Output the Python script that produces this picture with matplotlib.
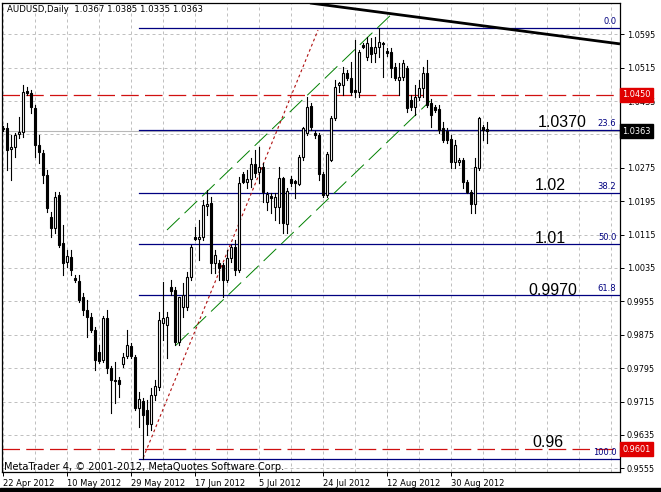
import matplotlib
matplotlib.use("Agg")
import matplotlib.pyplot as plt
from matplotlib.transforms import blended_transform_factory

# daily AUDUSD candles, bar 0 = 22 Apr 2012 (broker feed with Sunday bars)
opens = [1.0370, 1.0370, 1.0320, 1.0325, 1.0356, 1.0361, 1.0459, 1.0454, 1.0418, 1.0330,
         1.0310, 1.0258, 1.0157, 1.0131, 1.0210, 1.0095, 1.0049, 1.0061, 1.0011, 1.0004,
         0.9965, 0.9934, 0.9917, 0.9886, 0.9834, 0.9814, 0.9915, 0.9795, 0.9767, 0.9767,
         0.9805, 0.9824, 0.9848, 0.9822, 0.9699, 0.9716, 0.9695, 0.9661, 0.9731, 0.9750,
         0.9903, 0.9898, 0.9989, 0.9982, 0.9858, 0.9941, 0.9941, 1.0013, 1.0109, 1.0104,
         1.0109, 1.0183, 1.0191, 1.0047, 1.0047, 1.0042, 1.0006, 1.0059, 1.0085, 1.0030,
         1.0260, 1.0241, 1.0248, 1.0284, 1.0265, 1.0277, 1.0193, 1.0207, 1.0181, 1.0181,
         1.0251, 1.0140, 1.0248, 1.0243, 1.0236, 1.0301, 1.0358, 1.0423, 1.0358, 1.0354,
         1.0260, 1.0210, 1.0294, 1.0394, 1.0473, 1.0473, 1.0502, 1.0490, 1.0461, 1.0457,
         1.0569, 1.0540, 1.0564, 1.0550, 1.0564, 1.0574, 1.0555, 1.0552, 1.0517, 1.0485,
         1.0493, 1.0514, 1.0437, 1.0421, 1.0445, 1.0466, 1.0502, 1.0430, 1.0421, 1.0416,
         1.0370, 1.0363, 1.0344, 1.0289, 1.0289, 1.0294, 1.0241, 1.0217, 1.0188, 1.0275,
         1.0373, 1.0367]
highs = [1.0375, 1.0382, 1.0354, 1.0358, 1.0397, 1.0473, 1.0469, 1.0461, 1.0425, 1.0354,
         1.0318, 1.0270, 1.0169, 1.0217, 1.0217, 1.0138, 1.0078, 1.0078, 1.0018, 1.0018,
         0.9975, 0.9958, 0.9927, 0.9894, 0.9850, 0.9920, 0.9934, 0.9800, 0.9810, 0.9774,
         0.9831, 0.9886, 0.9855, 0.9826, 0.9738, 0.9723, 0.9719, 0.9747, 0.9767, 0.9929,
         1.0001, 0.9929, 1.0006, 0.9989, 0.9965, 0.9999, 1.0025, 1.0090, 1.0133, 1.0150,
         1.0198, 1.0222, 1.0205, 1.0078, 1.0054, 1.0047, 1.0078, 1.0090, 1.0102, 1.0253,
         1.0265, 1.0270, 1.0298, 1.0318, 1.0325, 1.0287, 1.0217, 1.0215, 1.0215, 1.0277,
         1.0253, 1.0227, 1.0255, 1.0246, 1.0306, 1.0373, 1.0445, 1.0430, 1.0363, 1.0358,
         1.0265, 1.0313, 1.0399, 1.0485, 1.0481, 1.0517, 1.0509, 1.0528, 1.0581, 1.0557,
         1.0574, 1.0588, 1.0586, 1.0588, 1.0610, 1.0576, 1.0562, 1.0562, 1.0526, 1.0526,
         1.0533, 1.0519, 1.0449, 1.0473, 1.0485, 1.0517, 1.0533, 1.0440, 1.0425, 1.0425,
         1.0385, 1.0370, 1.0354, 1.0342, 1.0298, 1.0298, 1.0246, 1.0222, 1.0298, 1.0397,
         1.0378, 1.0385]
lows = [1.0363, 1.0270, 1.0246, 1.0301, 1.0346, 1.0349, 1.0449, 1.0406, 1.0301, 1.0287,
        1.0239, 1.0169, 1.0109, 1.0119, 1.0085, 1.0018, 1.0037, 1.0018, 1.0001, 0.9953,
        0.9922, 0.9870, 0.9882, 0.9790, 0.9807, 0.9810, 0.9783, 0.9688, 0.9711, 0.9726,
        0.9798, 0.9819, 0.9819, 0.9695, 0.9654, 0.9577, 0.9635, 0.9647, 0.9719, 0.9743,
        0.9862, 0.9819, 0.9970, 0.9850, 0.9850, 0.9917, 0.9934, 1.0006, 1.0102, 1.0054,
        1.0102, 1.0162, 1.0023, 1.0023, 1.0006, 0.9965, 1.0001, 1.0049, 1.0018, 1.0025,
        1.0239, 1.0227, 1.0229, 1.0253, 1.0239, 1.0193, 1.0174, 1.0167, 1.0150, 1.0143,
        1.0119, 1.0119, 1.0231, 1.0203, 1.0234, 1.0294, 1.0354, 1.0366, 1.0346, 1.0246,
        1.0205, 1.0205, 1.0291, 1.0390, 1.0457, 1.0449, 1.0485, 1.0449, 1.0445, 1.0445,
        1.0562, 1.0533, 1.0528, 1.0528, 1.0540, 1.0493, 1.0543, 1.0493, 1.0485, 1.0449,
        1.0485, 1.0409, 1.0413, 1.0402, 1.0437, 1.0445, 1.0421, 1.0373, 1.0409, 1.0358,
        1.0337, 1.0334, 1.0275, 1.0275, 1.0282, 1.0227, 1.0215, 1.0167, 1.0167, 1.0270,
        1.0342, 1.0335]
closes = [1.0368, 1.0318, 1.0325, 1.0354, 1.0361, 1.0457, 1.0454, 1.0421, 1.0330, 1.0313,
          1.0258, 1.0179, 1.0131, 1.0205, 1.0090, 1.0047, 1.0064, 1.0030, 1.0006, 0.9958,
          0.9934, 0.9917, 0.9886, 0.9814, 0.9812, 0.9915, 0.9795, 0.9767, 0.9764, 0.9757,
          0.9822, 0.9850, 0.9824, 0.9699, 0.9721, 0.9683, 0.9661, 0.9731, 0.9752, 0.9910,
          0.9915, 0.9917, 0.9980, 0.9858, 0.9965, 0.9970, 1.0013, 1.0085, 1.0104, 1.0109,
          1.0186, 1.0188, 1.0047, 1.0066, 1.0035, 1.0006, 1.0059, 1.0085, 1.0030, 1.0239,
          1.0241, 1.0248, 1.0284, 1.0263, 1.0277, 1.0217, 1.0212, 1.0203, 1.0205, 1.0251,
          1.0143, 1.0219, 1.0239, 1.0239, 1.0301, 1.0370, 1.0421, 1.0373, 1.0354, 1.0260,
          1.0210, 1.0308, 1.0394, 1.0469, 1.0478, 1.0502, 1.0490, 1.0457, 1.0457, 1.0552,
          1.0564, 1.0574, 1.0548, 1.0564, 1.0576, 1.0572, 1.0550, 1.0514, 1.0490, 1.0493,
          1.0526, 1.0418, 1.0421, 1.0445, 1.0466, 1.0502, 1.0425, 1.0402, 1.0413, 1.0366,
          1.0342, 1.0342, 1.0289, 1.0330, 1.0294, 1.0241, 1.0217, 1.0188, 1.0277, 1.0394,
          1.0366, 1.0363]

date_labels = ["22 Apr 2012", "10 May 2012", "29 May 2012", "17 Jun 2012",
               "5 Jul 2012", "24 Jul 2012", "12 Aug 2012", "30 Aug 2012"]
date_bars = [0, 16, 32, 48, 64, 80, 96, 112]

price_ticks = [1.0595, 1.0515, 1.0435, 1.0355, 1.0275, 1.0195, 1.0115,
               1.0035, 0.9955, 0.9875, 0.9795, 0.9715, 0.9635, 0.9555]

# fibonacci retracement drawn from the June low to the August high
fib_high = 1.0609
fib_low = 0.9577
fib_start = 34
fib_ratios = [0.0, 0.236, 0.382, 0.5, 0.618, 1.0]
fib_names = ["0.0", "23.6", "38.2", "50.0", "61.8", "100.0"]

# hand-drawn level notes
note_texts = ["1.0370", "1.02", "1.01", "0.9970", "0.96"]
note_prices = [1.0374, 1.0222, 1.0094, 0.9970, 0.9606]
note_bars = [133.7, 133.0, 133.0, 131.2, 132.2]

red_levels = [1.0450, 0.9601]
last_price = 1.0363

# trend objects (bar, price) end points
black_trend = [(76.7, 1.0670), (154.2, 1.0572)]
red_trend = [(35.0, 0.9580), (78.7, 1.0605)]
chan_upper = [(40.95, 1.0126), (97.2, 1.0644)]
chan_lower = [(43.2, 0.9850), (106.7, 1.0435)]

W, H = 661, 492
fig = plt.figure(figsize=(W / 100, H / 100), dpi=100)
fig.patch.set_facecolor("white")
ax = fig.add_axes([2 / W, 20 / H, 618 / W, 469 / H])
ax.set_xlim(-0.3, 154.2)
ax.set_ylim(0.95461, 1.06700)

grid_kw = dict(color="#c0c0c0", lw=0.72, ls=(0, (3, 3)), zorder=0)
for k in range(0, 20):
    ax.axvline(8 * k, **grid_kw)
for p in price_ticks:
    ax.axhline(p, **grid_kw)

# fib levels
for r, name in zip(fib_ratios, fib_names):
    lv = fib_high - r * (fib_high - fib_low)
    ax.plot([fib_start, 154.2], [lv, lv], color="#000080", lw=0.9, zorder=2)
    ax.text(153.3, lv + 0.0005, name, color="#000080", fontsize=6.0,
            family="DejaVu Sans", ha="right", va="bottom", zorder=5)

for lv in red_levels:
    ax.axhline(lv, color="#d01010", lw=0.9, ls=(0, (14, 5)), zorder=2)
ax.axhline(last_price, color="#b8b8b8", lw=0.8, zorder=1)

ax.plot(*zip(*chan_upper), color="#008000", lw=0.7, ls=(0, (18, 7)), zorder=2)
ax.plot(*zip(*chan_lower), color="#008000", lw=0.7, ls=(0, (18, 7)), zorder=2)
ax.plot(*zip(*red_trend), color="#b01010", lw=0.8, ls=(0, (2.5, 2.5)), zorder=2)
ax.plot(*zip(*black_trend), color="black", lw=2.0, zorder=4, solid_capstyle="butt")

# candles
for i, (o, h, l, c) in enumerate(zip(opens, highs, lows, closes)):
    ax.plot([i, i], [l, h], color="black", lw=0.8, zorder=3)
    lo, hi = min(o, c), max(o, c)
    face = "black" if c < o else "white"
    if hi - lo < 0.00015:
        ax.plot([i - 0.4, i + 0.4], [c, c], color="black", lw=0.9, zorder=3)
    else:
        ax.bar(i, hi - lo, bottom=lo, width=0.5, color=face, edgecolor="black",
               lw=0.8, zorder=3)

for t, p, b in zip(note_texts, note_prices, note_bars):
    ax.text(b, p, t, fontsize=11.5, family="Liberation Sans", color="black",
            ha="left", va="baseline", zorder=6)

# axes cosmetics
for s in ax.spines.values():
    s.set_linewidth(0.9)
    s.set_color("black")
ax.yaxis.tick_right()
ax.set_yticks(price_ticks)
# 1.0355 sits fully under the black last-price box in the terminal, so leave it blank
ax.set_yticklabels(["" if p == 1.0355 else f"{p:.4f}" for p in price_ticks],
                   fontsize=5.9, family="DejaVu Sans")
ax.tick_params(axis="y", length=3, width=0.7, pad=2)
ax.set_xticks(date_bars)
ax.set_xticklabels(date_labels, fontsize=6.0, family="DejaVu Sans", ha="left")
ax.tick_params(axis="x", length=3, width=0.7, pad=2)

ytr = blended_transform_factory(ax.transAxes, ax.transData)
box_specs = [(red_levels[0], "#e00000"), (last_price, "black"), (red_levels[1], "#e00000")]
for p, col in box_specs:
    ax.text(1.004, p, f"{p:.4f}", transform=ytr, fontsize=5.9, family="DejaVu Sans",
            color="white", ha="left", va="center", clip_on=False, zorder=10,
            bbox=dict(boxstyle="square,pad=0.3", fc=col, ec=col))

fig.text(7 / W, 1 - 10 / H, "AUDUSD,Daily  1.0367 1.0385 1.0335 1.0363",
         fontsize=6.2, family="DejaVu Sans", va="center", ha="left")
fig.text(4 / W, 1 - 467 / H, "MetaTrader 4, \u00a9 2001-2012, MetaQuotes Software Corp.",
         fontsize=7.1, family="DejaVu Sans", va="center", ha="left")

fig.patches.append(plt.Rectangle((0, 0), 1, 4 / H, transform=fig.transFigure,
                                 color="black", zorder=0))

fig.savefig("out.png", dpi=100)
